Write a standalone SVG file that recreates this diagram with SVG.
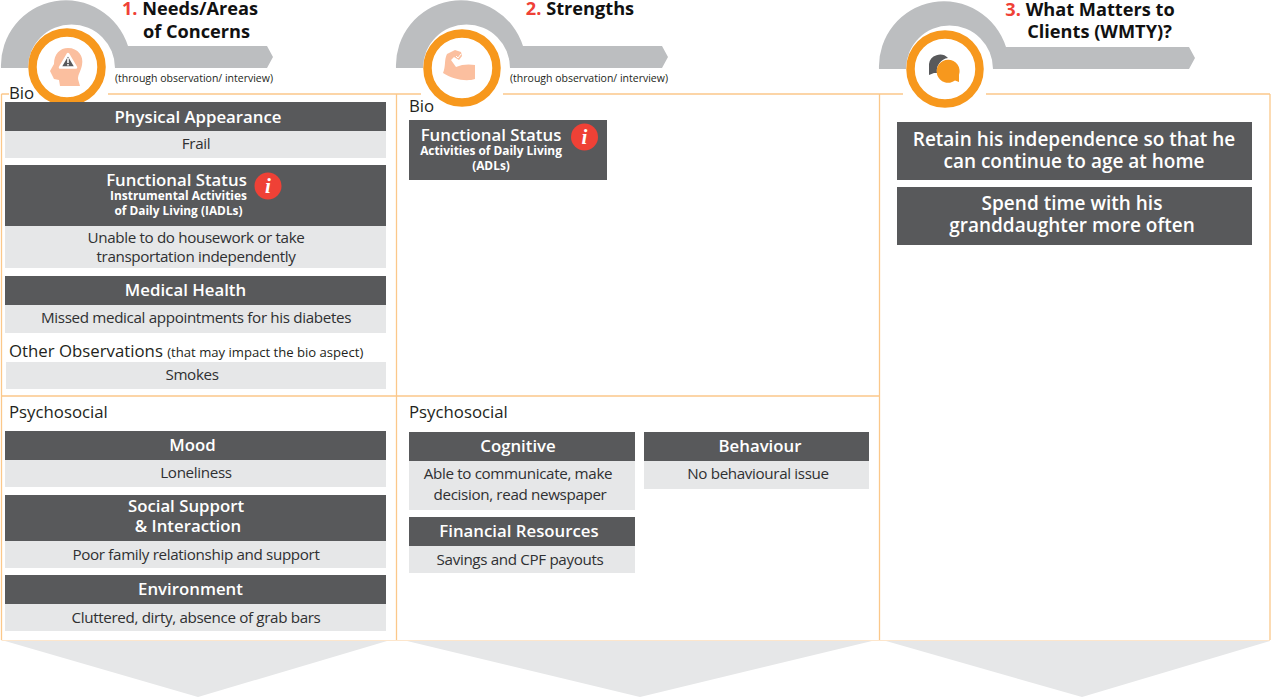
<svg xmlns="http://www.w3.org/2000/svg" width="1278" height="697" viewBox="0 0 1278 697">
<style>
text{font-family:"Open Sans","Noto Sans","Liberation Sans",sans-serif;text-anchor:middle}
.band{fill:#bcbec0}
.ring{fill:#fff;stroke:#f7981d;stroke-width:8.500}
.frame{stroke:#fbc88a;stroke-width:1.3;fill:none}
.frame2{stroke:#fde6cc;stroke-width:1.2;fill:none}
.chev{fill:#e6e7e8}
.hd{fill:#58595b}
.lt{fill:#e6e7e8}
.ht{fill:#fff;font-weight:600;font-size:16.8px}
.st{fill:#fff;font-weight:700;font-size:11.9px}
.bt{fill:#2f3032;font-size:15.2px;letter-spacing:-.35px}
.sec{fill:#231f20;font-size:16.8px;text-anchor:start}
.tt{fill:#111;font-weight:700;font-size:18.2px}
.num{fill:#ef4136}
.nt{fill:#231f20;font-size:10.5px;text-anchor:start}
.wt{fill:#fff;font-weight:600;font-size:19px}
.badge{fill:#ef4136}
.bi{fill:#fff;font-family:"Liberation Serif",serif;font-weight:700;font-style:italic;font-size:21px}
.skin{fill:#fbbf9f}
</style>
<defs>
<path id="arc" class="band" d="M1 68A65 65 0 0 1 128 46H267L273 57L267 68H115A43.5 43.5 0 0 0 28 68Z"/>
</defs>
<g id="connectors">
<path class="frame" d="M1.5 94H9M108 94H421M503 94H903M986 94H1270M1.5 94V640M396.5 94V640M879.5 94V640M1270 94V640M1.5 396H879.5"/>
<path class="frame2" d="M1.5 640.500H1270"/>
</g>
<g id="chevrons">
<polygon class="chev" points="5,641 387,641 198,697"/>
<polygon class="chev" points="407,641 872,641 640,697"/>
<polygon class="chev" points="886,641 1270,641 1082,697"/>
</g>
<g id="header-needs">
<use href="#arc"/>
<circle class="ring" cx="67" cy="67" r="34.500"/>
<path class="skin" d="M54 79L50 71L54 64C54 54 60 48 68 48C78 48 84 56 82 65C81 71 78 74 78 79L80 86H60L59 80Z"/>
<path d="M68 54L76 67.500H60Z" fill="#58595b" stroke="#fff" stroke-width="2.500" stroke-linejoin="round"/>
<path d="M67.200 58H68.800V63H67.200ZM67.200 64H68.800V65.600H67.200Z" fill="#fff"/>
<text class="tt" x="190" y="15"><tspan class="num">1.</tspan> Needs/Areas</text>
<text class="tt" x="196.500" y="38">of Concerns</text>
<text class="nt" x="115" y="82">(through observation/ interview)</text>
</g>
<g id="header-strengths">
<use href="#arc" x="395"/>
<circle class="ring" cx="462" cy="68" r="34.500"/>
<path class="skin" d="M447 54L455 50L461 52L462 56L459 60L454 57L451 60L456 67C462 64 470 64 475 65V79C466 82 452 79 443 73C446 66 444 60 447 54Z"/>
<path d="M456 56L458 58L461 54" fill="none" stroke="#fff" stroke-width="1"/>
<text class="tt" x="580" y="15"><tspan class="num">2.</tspan> Strengths</text>
<text class="nt" x="510" y="82">(through observation/ interview)</text>
</g>
<g id="header-wmty">
<path class="band" d="M879 69A65 65 0 0 1 1006 47H1189L1195 58L1189 69H993A43.5 43.5 0 0 0 906 69Z"/>
<circle class="ring" cx="945" cy="69" r="34.500"/>
<path d="M929 75V64A11 10.500 0 0 1 948 58A13 13 0 0 0 937 73L934 73Z" fill="#58595b"/>
<path d="M959 82L955 80.500A11.500 11.500 0 1 1 959 75Z" fill="#f7981d"/>
<text class="tt" x="1090" y="16"><tspan class="num">3.</tspan> What Matters to</text>
<text class="tt" x="1099.500" y="38">Clients (WMTY)?</text>
</g>
<g id="needs-bio">
<text class="sec" x="9" y="99">Bio</text>
<rect class="hd" x="5" y="102" width="381" height="29"/><text class="ht" x="198" y="122.500">Physical Appearance</text>
<rect class="lt" x="5" y="131" width="381" height="27"/><text class="bt" x="196" y="149">Frail</text>
<rect class="hd" x="5" y="165" width="381" height="61"/><text class="ht" x="176.500" y="186">Functional Status</text>
<text class="st" x="178.500" y="200">Instrumental Activities</text><text class="st" x="178.500" y="214.500">of Daily Living (IADLs)</text>
<circle class="badge" cx="268" cy="186" r="13.500"/><text class="bi" x="268" y="193">i</text>
<rect class="lt" x="5" y="226" width="381" height="42"/><text class="bt" x="196" y="243">Unable to do housework or take</text><text class="bt" x="196" y="262">transportation independently</text>
<rect class="hd" x="5" y="276" width="381" height="29"/><text class="ht" x="185.500" y="295.500">Medical Health</text>
<rect class="lt" x="5" y="305" width="381" height="28"/><text class="bt" x="196" y="323">Missed medical appointments for his diabetes</text>
<text class="sec" x="9" y="357">Other Observations <tspan font-size="13.100">(that may impact the bio aspect)</tspan></text>
<rect class="lt" x="6" y="362" width="380" height="27"/><text class="bt" x="192" y="380">Smokes</text>
</g>
<g id="needs-psychosocial">
<text class="sec" x="9" y="418">Psychosocial</text>
<rect class="hd" x="5" y="431" width="381" height="29"/><text class="ht" x="192.500" y="451">Mood</text>
<rect class="lt" x="5" y="460" width="381" height="27"/><text class="bt" x="196" y="478">Loneliness</text>
<rect class="hd" x="5" y="495" width="381" height="46"/><text class="ht" x="186" y="512">Social Support</text><text class="ht" x="188" y="532">&amp; Interaction</text>
<rect class="lt" x="5" y="541" width="381" height="27"/><text class="bt" x="196" y="560">Poor family relationship and support</text>
<rect class="hd" x="5" y="575" width="381" height="29"/><text class="ht" x="190.500" y="595">Environment</text>
<rect class="lt" x="5" y="604" width="381" height="27"/><text class="bt" x="196" y="623">Cluttered, dirty, absence of grab bars</text>
</g>
<g id="strengths-bio">
<text class="sec" x="409" y="112">Bio</text>
<rect class="hd" x="409" y="120" width="198" height="60"/><text class="ht" x="491" y="140.500">Functional Status</text>
<text class="st" x="491" y="155">Activities of Daily Living</text><text class="st" x="491" y="170">(ADLs)</text>
<circle class="badge" cx="584.500" cy="137" r="13.500"/><text class="bi" x="584.500" y="144">i</text>
</g>
<g id="strengths-psychosocial">
<text class="sec" x="409" y="418">Psychosocial</text>
<rect class="hd" x="409" y="432" width="226" height="29"/><text class="ht" x="518" y="452">Cognitive</text>
<rect class="lt" x="409" y="461" width="226" height="49"/><text class="bt" x="518" y="479">Able to communicate, make</text><text class="bt" x="520" y="500">decision, read newspaper</text>
<rect class="hd" x="409" y="517" width="226" height="29"/><text class="ht" x="519" y="537">Financial Resources</text>
<rect class="lt" x="409" y="546" width="226" height="27"/><text class="bt" x="520" y="565">Savings and CPF payouts</text>
<rect class="hd" x="644" y="432" width="225" height="29"/><text class="ht" x="760" y="452">Behaviour</text>
<rect class="lt" x="644" y="461" width="225" height="28"/><text class="bt" x="758" y="479">No behavioural issue</text>
</g>
<g id="wmty-1">
<rect class="hd" x="897" y="122" width="355" height="58"/><text class="wt" x="1074" y="146">Retain his independence so that he</text><text class="wt" x="1074" y="168">can continue to age at home</text>
</g>
<g id="wmty-2">
<rect class="hd" x="897" y="187" width="355" height="58"/><text class="wt" x="1072" y="210">Spend time with his</text><text class="wt" x="1072" y="232">granddaughter more often</text>
</g>
</svg>
